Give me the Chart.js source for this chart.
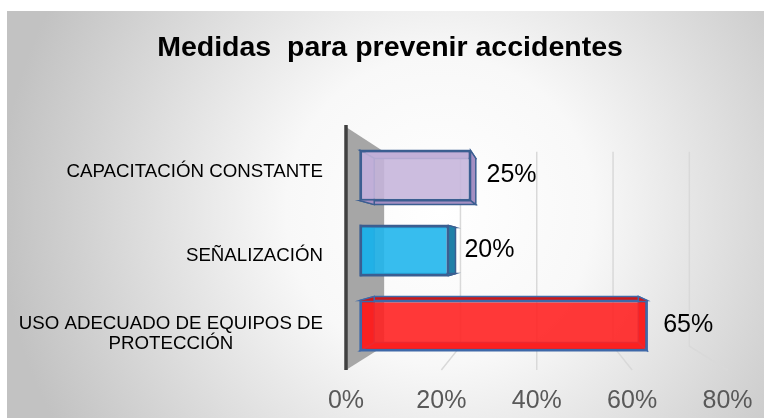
<!DOCTYPE html>
<html><head><meta charset="utf-8">
<script src="https://cdn.jsdelivr.net/npm/chart.js@4.4.1/dist/chart.umd.min.js"></script>
<style>html,body{margin:0;padding:0;background:#fff;}canvas{display:block;}</style>
</head><body>
<canvas id="c" width="764" height="418"></canvas>
<script>
const chartTitle = 'Medidas  para prevenir accidentes';
const categories = [['CAPACITACIÓN CONSTANTE'], ['SEÑALIZACIÓN'], ['USO ADECUADO DE EQUIPOS DE', 'PROTECCIÓN']];
const values = [25, 20, 65];
const tickValues = [0, 20, 40, 60, 80];
const frontColors = ['rgba(197,180,219,0.88)', 'rgba(33,182,236,0.9)', 'rgba(255,34,34,0.9)'];
const sideColors = ['#a48fc2', '#1f80a8', '#cc1818'];
const borderColors = ['#3b5e91', '#3b5e91', '#3f69a8'];

const FONT = "'Liberation Sans', Arial, sans-serif";
const BAR_FRONT = 0.926;   // depth of bar front plane relative to floor front
const BAR_BACK = 0.92;     // bar back face relative to its front face
const WALL = 0.8;          // back wall relative to floor front

const persp = {
  id: 'persp',
  beforeDraw(chart) {
    const {ctx, width, height} = chart;
    ctx.save();
    ctx.fillStyle = '#fff'; ctx.fillRect(0, 0, width, height);
    const g = ctx.createRadialGradient(440, 210, 0, 440, 210, 440);
    g.addColorStop(0, '#ffffff'); g.addColorStop(0.35, '#f8f8f8'); g.addColorStop(1, '#c2c2c2');
    ctx.fillStyle = g; ctx.fillRect(7, 11, width - 7, height - 11);
    ctx.restore();
  },
  beforeDatasetsDraw(chart) {
    const {ctx, chartArea: a, scales} = chart;
    const xs = scales.x;
    const vx = xs.getPixelForValue(40), vy = (a.top + a.bottom) / 2;
    const P = (px, py, s) => [vx + (px - vx) * s, vy + (py - vy) * s];
    const L = xs.getPixelForValue(tickValues[0]), top = a.top - 11, bot = a.bottom + 7;
    ctx.save();
    const w1 = P(L, top, WALL), w2 = P(L, bot, WALL);
    ctx.fillStyle = '#a6a6a6';
    ctx.beginPath(); ctx.moveTo(L, top); ctx.lineTo(w1[0], w1[1]); ctx.lineTo(w2[0], w2[1]); ctx.lineTo(L, bot); ctx.closePath(); ctx.fill();
    ctx.strokeStyle = '#d9d9d9'; ctx.lineWidth = 1.5;
    tickValues.forEach(v => {
      if (v === tickValues[0]) return;
      const f = xs.getPixelForValue(v);
      const bt = P(f, top, WALL), bb = P(f, bot, WALL);
      ctx.beginPath(); ctx.moveTo(bt[0], bt[1]); ctx.lineTo(bb[0], bb[1]); ctx.lineTo(f, bot); ctx.stroke();
    });
    ctx.strokeStyle = '#404040'; ctx.lineWidth = 3.5;
    ctx.beginPath(); ctx.moveTo(L, top - 2); ctx.lineTo(L, bot); ctx.stroke();
    const meta = chart.getDatasetMeta(0);
    meta.data.forEach((bar, i) => {
      const {x, y, base, height} = bar.getProps(['x', 'y', 'base', 'height'], true);
      const l = Math.min(x, base), r = Math.max(x, base), t = y - height / 2, b = y + height / 2;
      const F = [[l, t], [r, t], [r, b], [l, b]];
      const B = F.map(p => P(p[0], p[1], BAR_BACK));
      ctx.fillStyle = sideColors[i]; ctx.strokeStyle = borderColors[i]; ctx.lineWidth = 1.5;
      for (let k = 0; k < 4; k++) {
        const k2 = (k + 1) % 4;
        ctx.beginPath(); ctx.moveTo(F[k][0], F[k][1]); ctx.lineTo(F[k2][0], F[k2][1]);
        ctx.lineTo(B[k2][0], B[k2][1]); ctx.lineTo(B[k][0], B[k][1]); ctx.closePath();
        ctx.fill(); ctx.stroke();
      }
    });
    ctx.restore();
  },
  afterDatasetsDraw(chart) {
    const {ctx, chartArea: a, scales} = chart;
    const vy = (a.top + a.bottom) / 2;
    ctx.save();
    ctx.fillStyle = '#000'; ctx.textBaseline = 'middle';
    ctx.font = '25px ' + FONT; ctx.textAlign = 'left';
    const meta = chart.getDatasetMeta(0);
    meta.data.forEach((bar, i) => {
      const {x, y} = bar.getProps(['x', 'y'], true);
      ctx.fillText(values[i] + '%', x + 16, y);
    });
    ctx.font = '18.7px ' + FONT; ctx.textAlign = 'center';
    const right = a.left - 23;
    categories.forEach((lines, i) => {
      const py = scales.y.getPixelForValue(i);
      const cy = vy + (py - vy) * 1.08 + 2 + (i === 1 ? 3 : 0);
      const maxW = Math.max(...lines.map(s => ctx.measureText(s).width));
      lines.forEach((s, j) => ctx.fillText(s, right - maxW / 2, cy + (j - (lines.length - 1) / 2) * 20));
    });
    ctx.restore();
  }
};

new Chart(document.getElementById('c'), {
  type: 'bar',
  data: {
    labels: categories,
    datasets: [{
      data: values,
      xAxisID: 'xb', yAxisID: 'y',
      backgroundColor: frontColors,
      borderColor: borderColors,
      borderWidth: 2,
      borderSkipped: false,
      barPercentage: 0.67,
      categoryPercentage: 1
    }]
  },
  options: {
    indexAxis: 'y',
    responsive: false,
    animation: false,
    devicePixelRatio: 1,
    layout: {padding: {left: 52.5, right: 36.5, top: 0, bottom: 0}},
    plugins: {
      legend: {display: false},
      tooltip: {enabled: false},
      title: {
        display: true, text: chartTitle, color: '#000',
        font: {family: FONT, size: 28.5, weight: 'bold'},
        padding: {top: 31.5, bottom: 72.3}
      }
    },
    scales: {
      y: {
        type: 'category',
        grid: {display: false, drawTicks: false}, border: {display: false},
        ticks: {display: false},
        afterFit(s) { s.width = 346 - 52.5; s.paddingTop = 0; s.paddingBottom = 0; }
      },
      x: {
        type: 'linear', position: 'bottom',
        min: tickValues[0], max: tickValues[tickValues.length - 1],
        grid: {display: false, drawTicks: false}, border: {display: false},
        ticks: {stepSize: 20, padding: 23.5, color: '#595959', font: {family: FONT, size: 25}, callback: v => v + '%'},
        afterFit(s) { s.height = 55; s.paddingLeft = 0; s.paddingRight = 0; }
      },
      xb: {
        type: 'linear', position: 'bottom', display: false,
        min: 40 - 40 / BAR_FRONT, max: 40 + 40 / BAR_FRONT
      }
    }
  },
  plugins: [persp]
});
</script>
</body></html>
